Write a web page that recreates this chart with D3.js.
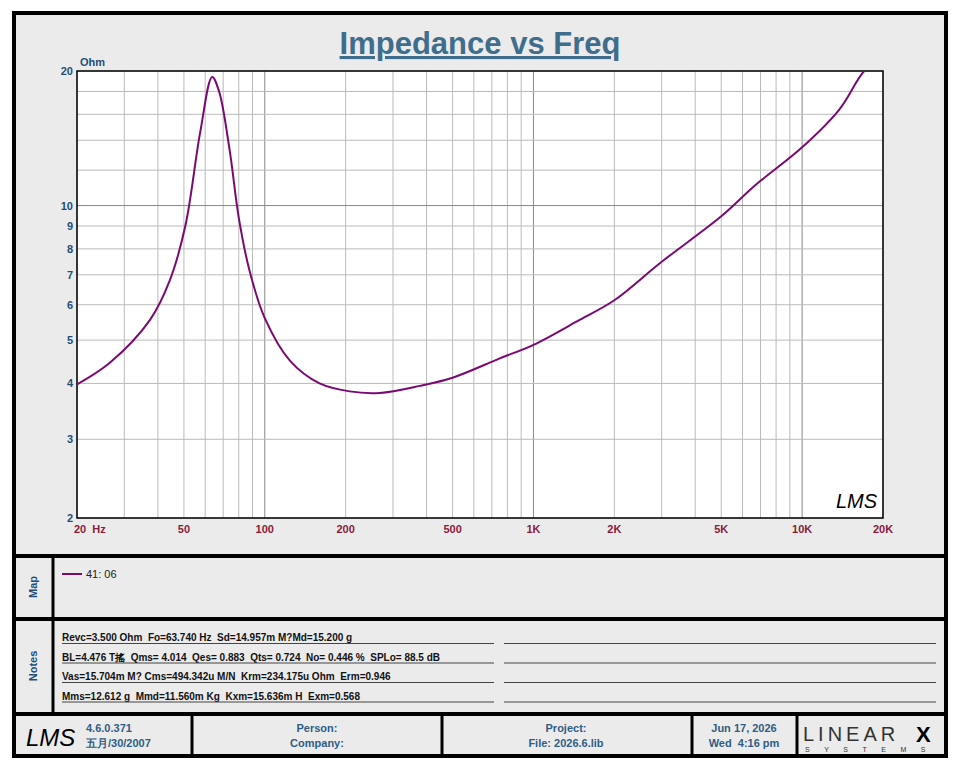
<!DOCTYPE html>
<html><head><meta charset="utf-8">
<script src="https://cdn.jsdelivr.net/npm/d3@7"></script>
<style>body{margin:0;background:#fff}text{font-family:Arial,"Liberation Sans",sans-serif;white-space:pre}</style>
</head><body><svg id="c" width="960" height="768"></svg>
<script>
// impedance curve
var freq = [20, 26.5, 37.4, 44.3, 50.7, 57.5, 63.7, 67.6, 74, 80, 88, 100, 124, 160, 207, 268, 377, 500, 749, 1000, 1485, 2000, 2970, 5000, 6690, 10000, 13750, 16800, 20000];
var ohm = [3.98, 4.45, 5.55, 6.8, 9.05, 14.6, 19.4, 18.0, 13.3, 9.4, 7.1, 5.6, 4.5, 4.0, 3.84, 3.81, 3.95, 4.12, 4.55, 4.88, 5.55, 6.14, 7.45, 9.46, 11.1, 13.5, 16.4, 19.8, 22];
var xTicks = [20, 50, 100, 200, 500, 1000, 2000, 5000, 10000, 20000];
var xLabels = ["20  Hz", "50", "100", "200", "500", "1K", "2K", "5K", "10K", "20K"];
var yTicks = [2, 3, 4, 5, 6, 7, 8, 9, 10, 20];
var notes = [
  "Revc=3.500 Ohm  Fo=63.740 Hz  Sd=14.957m M?Md=15.200 g",
  "BL=4.476 T搖  Qms= 4.014  Qes= 0.883  Qts= 0.724  No= 0.446 %  SPLo= 88.5 dB",
  "Vas=15.704m M? Cms=494.342u M/N  Krm=234.175u Ohm  Erm=0.946",
  "Mms=12.612 g  Mmd=11.560m Kg  Kxm=15.636m H  Exm=0.568"
];

var svg = d3.select("#c");
var L = 77, R = 883, T = 71, B = 518;
var x = d3.scaleLog().domain([20, 20000]).range([L, R]);
var y = d3.scaleLog().domain([2, 20]).range([B, T]);
var blue = "#1f4e79", maroon = "#8b1a3a";

svg.append("rect").attr("x", 14).attr("y", 13).attr("width", 932).attr("height", 743).attr("fill", "#ebebeb");
svg.append("rect").attr("x", L).attr("y", T).attr("width", R - L).attr("height", B - T).attr("fill", "#fff");

// grid
var minorX = [];
[10, 100, 1000, 10000].forEach(function (d) { for (var k = 1; k < 10; k++) { var f = d * k; if (f >= 20 && f <= 20000) minorX.push(f); } });
svg.append("g").selectAll("line").data(minorX).enter().append("line")
  .attr("x1", d => x(d)).attr("x2", d => x(d)).attr("y1", T).attr("y2", B)
  .attr("stroke", d => [100, 1000, 10000].indexOf(d) >= 0 ? "#888" : "#bbb").attr("stroke-width", 1);
var minorY = [2, 3, 4, 5, 6, 7, 8, 9, 10, 12, 14, 16, 18, 20];
svg.append("g").selectAll("line").data(minorY).enter().append("line")
  .attr("x1", L).attr("x2", R).attr("y1", d => y(d)).attr("y2", d => y(d))
  .attr("stroke", d => d == 10 ? "#888" : "#bbb");
svg.append("rect").attr("x", L).attr("y", T).attr("width", R - L).attr("height", B - T).attr("fill", "none").attr("stroke", "#000").attr("stroke-width", 1.5);

// axes labels
svg.append("g").selectAll("text").data(xTicks).enter().append("text")
  .attr("x", (d, i) => i == 0 ? x(d) - 3 : x(d)).attr("y", B + 15).attr("text-anchor", (d, i) => i == 0 ? "start" : "middle")
  .attr("font-size", 11).attr("font-weight", "bold").attr("fill", maroon).text((d, i) => xLabels[i]);
svg.append("g").selectAll("text").data(yTicks).enter().append("text")
  .attr("x", L - 4).attr("y", d => y(d) + 4).attr("text-anchor", "end")
  .attr("font-size", 11).attr("font-weight", "bold").attr("fill", blue).text(d => d);
svg.append("text").attr("x", 80).attr("y", 66).attr("font-size", 11).attr("font-weight", "bold").attr("fill", blue).text("Ohm");

// title
svg.append("text").attr("x", 480).attr("y", 54).attr("text-anchor", "middle").attr("font-size", 31).attr("font-weight", "bold")
  .attr("fill", "#3f6e8c").attr("text-decoration", "underline").text("Impedance vs Freq");

// curve
svg.append("clipPath").attr("id", "pc").append("rect").attr("x", L).attr("y", T).attr("width", R - L).attr("height", B - T);
var pts = freq.map((f, i) => [f, ohm[i]]);
svg.append("path").datum(pts).attr("clip-path", "url(#pc)")
  .attr("d", d3.line().x(d => x(d[0])).y(d => y(d[1])).curve(d3.curveCatmullRom.alpha(0.5)))
  .attr("fill", "none").attr("stroke", "#7a0a72").attr("stroke-width", 2);

svg.append("text").attr("x", 836).attr("y", 508).attr("font-size", 20).attr("font-style", "italic").attr("font-family", "DejaVu Serif").text("LMS");

// panels
function hline(y0, x0, x1, w) { svg.append("line").attr("x1", x0).attr("x2", x1).attr("y1", y0).attr("y2", y0).attr("stroke", "#000").attr("stroke-width", w); }
function vline(x0, y0, y1, w) { svg.append("line").attr("x1", x0).attr("x2", x0).attr("y1", y0).attr("y2", y1).attr("stroke", "#000").attr("stroke-width", w); }
hline(556, 14, 946, 4); hline(619, 14, 946, 4); hline(714, 14, 946, 4);
vline(53, 556, 714, 3);
[192, 442, 692, 797].forEach(v => vline(v, 714, 756, 3));
svg.append("rect").attr("x", 14).attr("y", 13).attr("width", 932).attr("height", 743).attr("fill", "none").attr("stroke", "#000").attr("stroke-width", 4);

function vlab(t, cy) {
  svg.append("text").attr("transform", "translate(37," + cy + ") rotate(-90)").attr("text-anchor", "middle")
    .attr("font-size", 11).attr("font-weight", "bold").attr("fill", blue).text(t);
}
vlab("Map", 587); vlab("Notes", 666);

svg.append("line").attr("x1", 62).attr("x2", 82).attr("y1", 574).attr("y2", 574).attr("stroke", "#7a0a72").attr("stroke-width", 2);
svg.append("text").attr("x", 86).attr("y", 578).attr("font-size", 11).attr("fill", "#222").text("41: 06");

notes.forEach(function (t, i) {
  var yy = 641 + i * 19.5;
  svg.append("text").attr("x", 62).attr("y", yy).attr("font-size", 10).attr("font-weight", "bold").attr("fill", "#111").text(t);
  svg.append("line").attr("x1", 62).attr("x2", 494).attr("y1", yy + 2.5).attr("y2", yy + 2.5).attr("stroke", "#444");
  svg.append("line").attr("x1", 504).attr("x2", 936).attr("y1", yy + 2.5).attr("y2", yy + 2.5).attr("stroke", "#444");
});

function ft(tx, ty, t, anchor) {
  svg.append("text").attr("x", tx).attr("y", ty).attr("text-anchor", anchor || "middle").attr("font-size", 11)
    .attr("font-weight", "bold").attr("fill", "#2f5d86").text(t);
}
svg.append("text").attr("x", 26).attr("y", 746).attr("font-size", 24).attr("font-style", "italic").attr("font-family", "DejaVu Serif").text("LMS");
ft(86, 732, "4.6.0.371", "start"); ft(86, 747, "五月/30/2007", "start");
ft(317, 732, "Person:"); ft(317, 747, "Company:");
ft(566, 732, "Project:"); ft(566, 747, "File: 2026.6.lib");
ft(744, 732, "Jun 17, 2026"); ft(744, 747, "Wed  4:16 pm");
svg.append("text").attr("x", 803).attr("y", 741).attr("font-size", 20).attr("font-family", "DejaVu Serif").attr("letter-spacing", 4).attr("fill", "#333").text("LINEAR");
svg.append("text").attr("x", 916).attr("y", 742).attr("font-size", 22).attr("font-weight", "bold").attr("font-family", "DejaVu Sans").text("X");
svg.append("text").attr("x", 805).attr("y", 752).attr("font-size", 7).attr("letter-spacing", 14.5).attr("fill", "#333").text("SYSTEMS");
</script></body></html>
